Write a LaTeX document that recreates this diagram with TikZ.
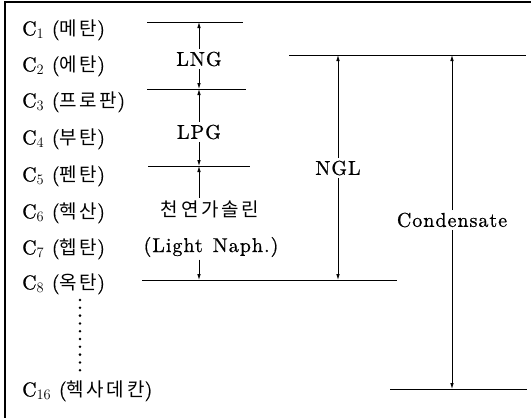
\documentclass[tikz,border=0pt]{standalone}
\usepackage{fontspec}
\setmainfont{lmroman10-regular.otf}[LetterSpace=5,FakeBold=0.8]
\newfontfamily\kr{Noto Sans CJK KR}[Scale=0.95,LetterSpace=14]
\usetikzlibrary{arrows.meta}
\begin{document}
\begin{tikzpicture}[x=1pt,y=-1pt,
  lbl/.style={font=\fontsize{20}{24}\selectfont},
  comp/.style={lbl, anchor=west, inner sep=0pt},
  qty/.style={lbl, inner sep=2.5pt},
  level/.style={line width=1pt},
  dim/.style={line width=0.8pt, -{Latex[length=6pt,width=3.6pt]}},
  frameline/.style={line width=1.4pt},
  dots/.style={line width=2.8pt, line cap=round, dash pattern=on 0pt off 7.8pt}
]
\useasboundingbox (0,0) rectangle (531,418);

% outer frame
\draw[frameline] (5,418) -- (5,2) -- (531,2);

% hydrocarbon components
\node[comp] (c1)  at (22,30)  {C$_1$ ({\kr 메탄})};
\node[comp] (c2)  at (22,66)  {C$_2$ ({\kr 에탄})};
\node[comp] (c3)  at (22,102) {C$_3$ ({\kr 프로판})};
\node[comp] (c4)  at (22,139) {C$_4$ ({\kr 부탄})};
\node[comp] (c5)  at (22,176) {C$_5$ ({\kr 펜탄})};
\node[comp] (c6)  at (22,213) {C$_6$ ({\kr 헥산})};
\node[comp] (c7)  at (22,249) {C$_7$ ({\kr 헵탄})};
\node[comp] (c8)  at (22,284) {C$_8$ ({\kr 옥탄})};
\node[comp] (c16) at (22,391) {C$_{16}$ ({\kr 헥사데칸})};

% continuation dots between C8 and C16
\coordinate (d1) at (80,300);
\coordinate (d2) at (80,371);
\draw[dots] (d1) -- (d2);

% cut levels
\coordinate (a1) at (147,22);  \coordinate (b1) at (243,22);
\coordinate (a2) at (147,89);  \coordinate (b2) at (246,89);
\coordinate (a3) at (148,166); \coordinate (b3) at (250,166);
\coordinate (a4) at (142,280); \coordinate (b4) at (397,280);
\coordinate (a5) at (289,55);  \coordinate (b5) at (526,55);
\coordinate (a6) at (390,389); \coordinate (b6) at (527,389);
\foreach \i in {1,...,6} \draw[level] (a\i) -- (b\i);

% product ranges
\node[qty] (lng)  at (199,59)  {LNG};
\node[qty] (lpg)  at (199,132) {LPG};
\node[qty] (nk)   at (210,209) {{\kr 천연가솔린}};
\node[qty] (nl)   at (211,247) {(Light\hspace{0.5em}Naph.)};
\node[qty] (ngl)  at (338,168) {NGL};
\node[qty] (cond) at (452,220) {Condensate};

\draw[dim] (lng.north) -- (lng.north |- a1);
\draw[dim] (lng.south) -- (lng.south |- a2);
\draw[dim] (lpg.north) -- (lpg.north |- a2);
\draw[dim] (lpg.south) -- (lpg.south |- a3);
\draw[dim] (nk.north -| lng) -- (a3 -| lng);
\draw[dim] (nl.south -| lng) -- (a4 -| lng);
\draw[dim] (ngl.north) -- (ngl.north |- a5);
\draw[dim] (ngl.south) -- (ngl.south |- a4);
\draw[dim] (cond.north) -- (cond.north |- a5);
\draw[dim] (cond.south) -- (cond.south |- a6);
\end{tikzpicture}
\end{document}
